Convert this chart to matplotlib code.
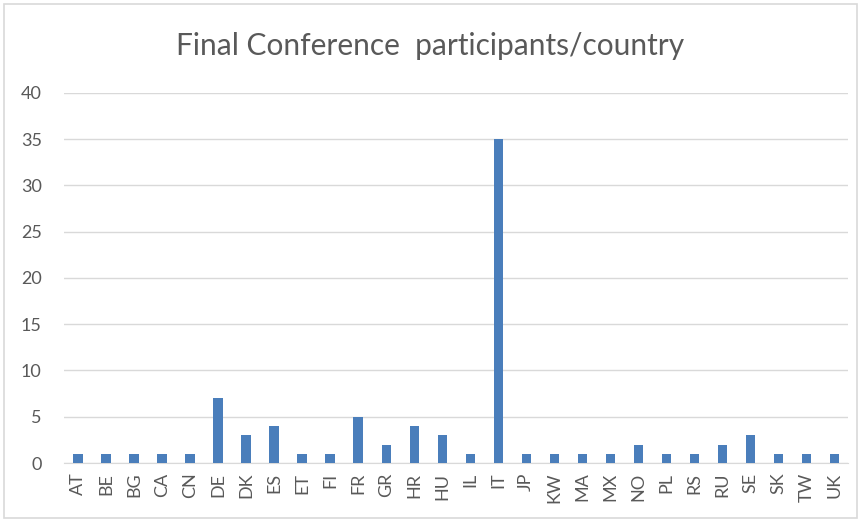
import matplotlib
matplotlib.use("Agg")
import matplotlib.pyplot as plt
from matplotlib.patches import Rectangle

countries = ["AT", "BE", "BG", "CA", "CN", "DE", "DK", "ES", "ET", "FI", "FR", "GR", "HR", "HU",
             "IL", "IT", "JP", "KW", "MA", "MX", "NO", "PL", "RS", "RU", "SE", "SK", "TW", "UK"]
participants = [1, 1, 1, 1, 1, 7, 3, 4, 1, 1, 5, 2, 4, 3,
                1, 35, 1, 1, 1, 1, 2, 1, 1, 2, 3, 1, 1, 1]
yticks = [0, 5, 10, 15, 20, 25, 30, 35, 40]

plt.rcParams['font.family'] = ['Lato', 'DejaVu Sans']
fig = plt.figure(figsize=(8.61, 5.22), dpi=100)
fig.patches.append(Rectangle((0.005, 0.008), 0.99, 0.985, transform=fig.transFigure,
                             fill=False, edgecolor="#d9d9d9", linewidth=1.2))
ax = fig.add_axes([0.0743, 0.113, 0.911, 0.709])
x = list(range(len(countries)))
ax.bar(x, participants, width=0.33, color="#4a7ebb", zorder=3)
ax.set_xlim(-0.5, len(countries) - 0.5)
ax.set_ylim(0, 40)
ax.set_yticks(yticks)
ax.set_xticks(x)
ax.set_xticklabels(countries, rotation=90, fontsize=13, color="#595959")
ax.tick_params(axis='y', labelsize=13, colors="#595959", length=0, pad=16)
ax.tick_params(axis='x', length=0, pad=7)
ax.grid(axis='y', color="#d9d9d9", linewidth=1, zorder=0)
for s in ["top", "right", "left"]:
    ax.spines[s].set_visible(False)
ax.spines["bottom"].set_color("#d9d9d9")
fig.text(0.5, 0.912, "Final Conference  participants/country", ha="center", va="center",
         fontsize=21.5, color="#595959")
fig.savefig("out.png", dpi=100)
